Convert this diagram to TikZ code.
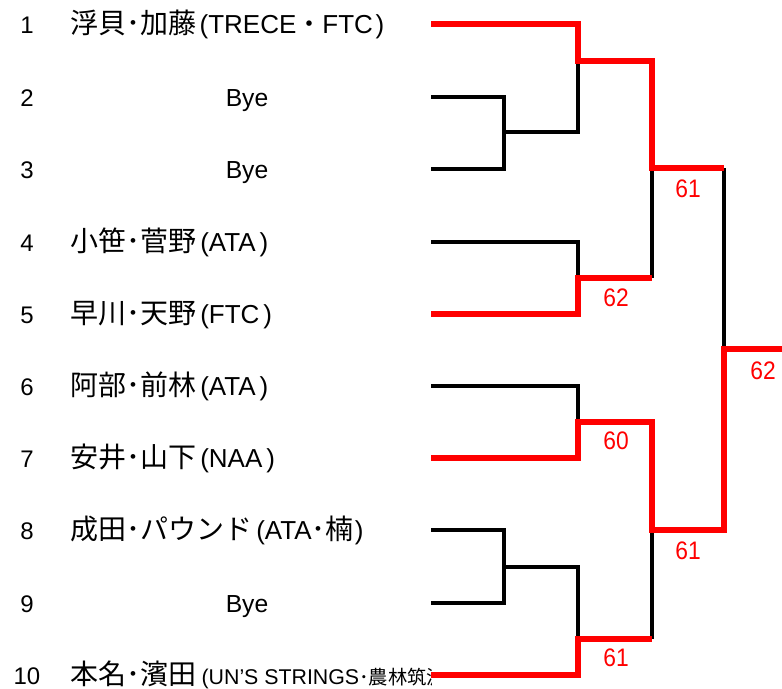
\documentclass[tikz,border=0pt]{standalone}
\usepackage{fontspec}
\setmainfont{Liberation Sans}
\newfontfamily\jp{Noto Sans CJK JP}
\newfontfamily\scorefont[FakeStretch=0.9]{Liberation Sans}
% CJK run, large
\newcommand\J[1]{{\jp\fontsize{21}{24}\selectfont #1}}
% half-width middle dot (U+FF65)
\newcommand\dt{{\jp ･}}
% full-width middle dot
\newcommand\fdt{{\jp ・}}
\begin{document}
\begin{tikzpicture}[x=0.75pt,y=-0.75pt,
  blk/.style={draw=black,line width=2.4pt,line join=miter},
  win/.style={draw=red,line width=3.8pt,line join=miter},
  seednum/.style={font=\fontsize{18}{20}\selectfont,anchor=base,inner sep=0pt},
  entry/.style={font=\fontsize{19.5}{22}\selectfont,anchor=base west,inner sep=0pt},
  byebox/.style={font=\fontsize{18.5}{20}\selectfont,anchor=base,inner sep=0pt},
  score/.style={text=red,font=\scorefont\fontsize{19}{20}\selectfont,anchor=base,inner sep=0pt}]
\useasboundingbox (0,0) rectangle (782,689);
% row start coordinates and seed numbers
\foreach \i/\y in {1/24,2/97,3/169,4/242,5/314,6/386,7/458,8/530,9/603,10/675}{
  \coordinate (r\i) at (431,\y);
  \node[seednum] (n\i) at (27,\y+9) {\i};
}
% entries
\node[entry] (e1) at (70,33.5) {\J{浮貝\dt 加藤}\kern2.5pt(TRECE\fdt FTC\kern2pt)};
\node[byebox] (e2) at (247,106.5) {Bye};
\node[byebox] (e3) at (247,178.5) {Bye};
\node[entry] (e4) at (70,251.5) {\J{小笹\dt 菅野}\kern3pt(ATA\kern3pt)};
\node[entry] (e5) at (70,323.5) {\J{早川\dt 天野}\kern3pt(FTC\kern3pt)};
\node[entry] (e6) at (70,395.5) {\J{阿部\dt 前林}\kern3pt(ATA\kern3pt)};
\node[entry] (e7) at (70,467.5) {\J{安井\dt 山下}\kern3pt(NAA\kern3pt)};
\node[entry] (e8) at (70,539.5) {\J{成田\dt パウンド}\kern3pt(ATA\J{\dt 楠}\kern1pt)};
\node[byebox] (e9) at (247,612.5) {Bye};
\begin{scope}
\clip (0,640) rectangle (431,689);
\node[entry] (e10) at (70,684.5) {\J{本名\dt 濱田}\kern4pt{\fontsize{16}{18}\selectfont (UN’S STRINGS{\jp\fontsize{14.5}{16}\selectfont\dt 農林筑波})}};
\end{scope}
% junction coordinates
\coordinate (a23) at (504,132);
\coordinate (a89) at (504,567);
\coordinate (m1) at (578,61);
\coordinate (m2) at (578,278);
\coordinate (m3) at (578,422);
\coordinate (m4) at (578,639);
\coordinate (s1) at (652,168);
\coordinate (s2) at (652,530);
\coordinate (f) at (724,349);
\coordinate (champ) at (782,349);
% black (losing) lines
\draw[blk] (r2) -| (a23) |- (r3);
\draw[blk] (a23) -| (m1);
\draw[blk] (r4) -| (m2);
\draw[blk] (r6) -| (m3);
\draw[blk] (r8) -| (a89) |- (r9);
\draw[blk] (a89) -| (m4);
\draw[blk] (m2 -| s1) -- (s1);
\draw[blk] (m4 -| s2) -- (s2);
\draw[blk] (s1 -| f) -- (f);
% red (winning) lines
\draw[win] (r1) -| (m1) -| (s1) -- (s1 -| f);
\draw[win] (r5) -| (m2) -- (m2 -| s1);
\draw[win] (r7) -| (m3) -| (s2) -| (f) -- (champ);
\draw[win] (r10) -| (m4) -- (m4 -| s2);
% scores
\node[score] (c1) at (688,197) {61};
\node[score] (c2) at (616,306) {62};
\node[score] (c3) at (616,449) {60};
\node[score] (c4) at (688,559) {61};
\node[score] (c5) at (616,666) {61};
\node[score] (c6) at (763,379) {62};
\end{tikzpicture}
\end{document}
